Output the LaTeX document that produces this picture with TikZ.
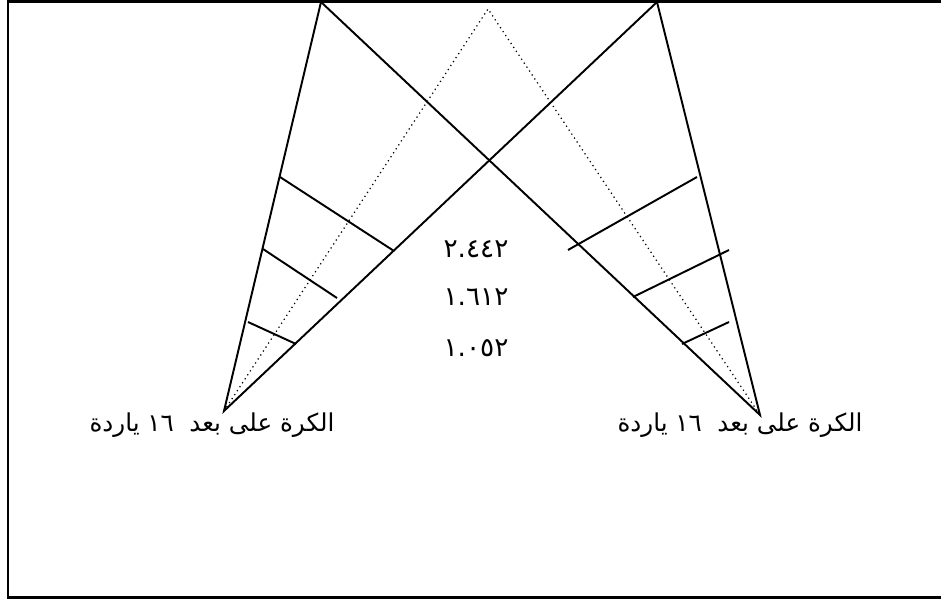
\documentclass[tikz,border=0pt]{standalone}
\usepackage{fontspec}
\TeXXeTstate=1
\newfontfamily\arabicfont[Script=Arabic]{DejaVu Sans}
\usetikzlibrary{positioning}
\tikzset{
  frame/.style={line width=1.2pt},
  side/.style={line width=1.1pt},
  aim/.style={dotted, line width=0.7pt},
  bar/.style={line width=1.1pt},
  dist/.style={font=\arabicfont\fontsize{15}{17}\selectfont, inner sep=1pt},
  ball/.style={font=\arabicfont\fontsize{14}{16}\selectfont, inner sep=1pt},
}

\begin{document}
\begin{tikzpicture}[x=0.02cm, y=-0.02cm]
    \useasboundingbox (0,0) rectangle (941,601);
    \draw[frame] (8,1.5) rectangle (946,597.5);
    % ball positions and far posts
    \coordinate (lball) at (224,411);
    \coordinate (rball) at (760,415);
    \coordinate (ltop) at (321,2);
    \coordinate (rtop) at (657,2);
    \coordinate (mtop) at (488,9);
    \draw[side] (ltop) -- (lball) -- (rtop);
    \draw[side] (rtop) -- (rball) -- (ltop);
    \draw[aim] (lball) -- (mtop) -- (rball);
    % widths of the angle
    \draw[bar] (280,177) -- (394,251);
    \draw[bar] (263,249) -- (337,298);
    \draw[bar] (248,322) -- (296,344);
    \draw[bar] (697,177) -- (568,250);
    \draw[bar] (729,250) -- (633,297);
    \draw[bar] (729,322) -- (682,344);
    \node[dist] (d1) at (476,249) {٢.٤٤٢};
    \node[dist] (d2) at (476,297) {١.٦١٢};
    \node[dist] (d3) at (476,348) {١.٠٥٢};
    \node[ball] (lab1) at (212,425) {\beginR الكرة على بعد \ \beginL١٦\endL{} ياردة\endR};
    \node[ball] (lab2) at (740,425) {\beginR الكرة على بعد \ \beginL١٦\endL{} ياردة\endR};
  \end{tikzpicture}
\end{document}
